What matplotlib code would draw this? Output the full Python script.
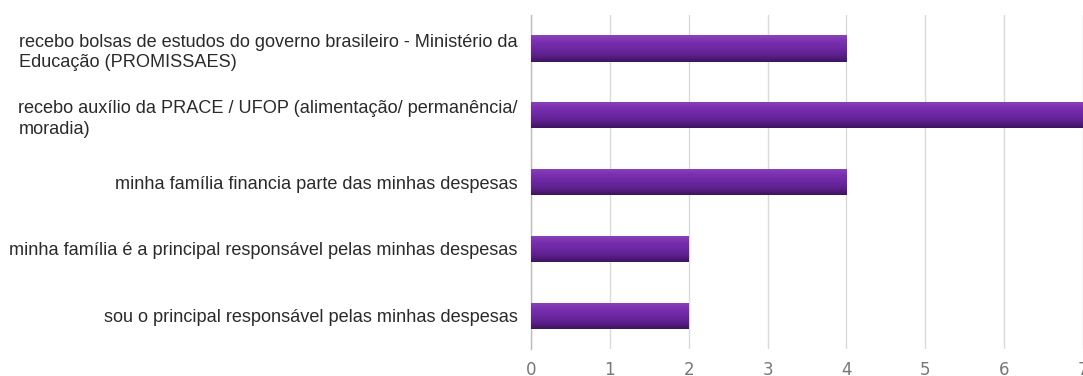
import numpy as np
import matplotlib
matplotlib.use("Agg")
import matplotlib.pyplot as plt
from matplotlib.colors import LinearSegmentedColormap

# Survey answers and counts, top to bottom
categories = [
    "recebo bolsas de estudos do governo brasileiro - Ministério da\nEducação (PROMISSAES)",
    "recebo auxílio da PRACE / UFOP (alimentação/ permanência/\nmoradia)",
    "minha família financia parte das minhas despesas",
    "minha família é a principal responsável pelas minhas despesas",
    "sou o principal responsável pelas minhas despesas",
]
counts = [4, 7, 4, 2, 2]
x_ticks = [0, 1, 2, 3, 4, 5, 6, 7]

plt.rcParams["font.family"] = ["Liberation Sans", "DejaVu Sans"]

fig = plt.figure(figsize=(10.83, 3.76), dpi=100)
ax = fig.add_axes([0.4903, 0.0718, 0.5097, 0.888])

y = np.arange(len(categories))
bars = ax.barh(y, counts, height=0.39, color="#6a27a0", zorder=3)

# vertical shading on each bar: lighter top, darker bottom
shade = LinearSegmentedColormap.from_list(
    "bar_shade", ["#8a45b8", "#7a2fb0", "#6c28a2", "#5e208e", "#3e1460"])
grad = np.linspace(0, 1, 64).reshape(-1, 1)
for rect in bars:
    x0, y0 = rect.get_x(), rect.get_y()
    w, h = rect.get_width(), rect.get_height()
    im = ax.imshow(grad, cmap=shade, aspect="auto",
                   extent=(x0, x0 + w, y0 + h, y0), zorder=4,
                   interpolation="bilinear")
    im.set_clip_path(rect)

ax.set_xlim(0, 7)
ax.set_ylim(len(categories) - 0.5, -0.5)
ax.set_xticks(x_ticks)
ax.set_xticklabels([str(t) for t in x_ticks], color="#777777", fontsize=12,
                   family=["Liberation Sans Narrow", "DejaVu Sans"])
ax.set_yticks(y)
ax.set_yticklabels(categories, fontsize=13.1, color="#2a2a2a",
                   multialignment="left", linespacing=1.3)

ax.grid(axis="x", color="#dadada", linewidth=1, zorder=0)
ax.tick_params(axis="both", length=0)
ax.tick_params(axis="y", pad=9.5)
ax.tick_params(axis="x", pad=8.5)
for side in ("top", "right", "bottom"):
    ax.spines[side].set_visible(False)
ax.spines["left"].set_color("#bdbdbd")
ax.spines["left"].set_linewidth(1)

fig.savefig("out.png", dpi=100)
